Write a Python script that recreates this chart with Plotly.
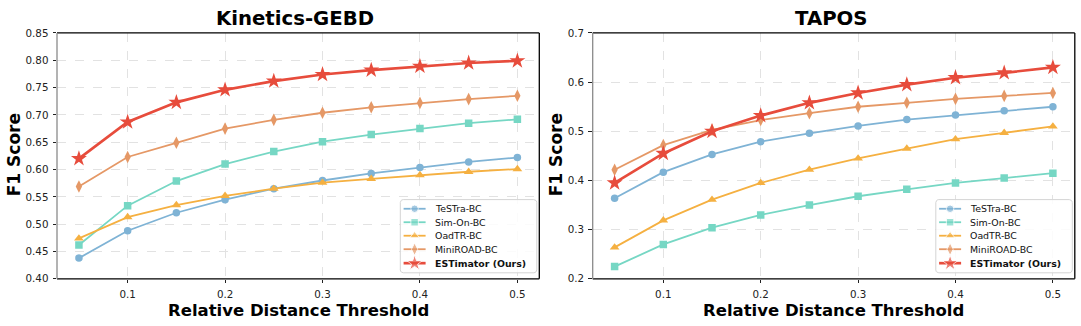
import math
import plotly.graph_objects as go

# Relative distance thresholds
thresholds = [0.05, 0.10, 0.15, 0.20, 0.25, 0.30, 0.35, 0.40, 0.45, 0.50]

methods = ["TeSTra-BC", "Sim-On-BC", "OadTR-BC", "MiniROAD-BC", "ESTimator (Ours)"]

# Kinetics-GEBD F1 scores
kin_testra = [0.438, 0.488, 0.521, 0.545, 0.565, 0.580, 0.593, 0.604, 0.614, 0.622]
kin_simon = [0.462, 0.534, 0.579, 0.610, 0.633, 0.651, 0.664, 0.675, 0.685, 0.692]
kin_oadtr = [0.474, 0.513, 0.535, 0.552, 0.565, 0.576, 0.583, 0.590, 0.596, 0.601]
kin_miniroad = [0.569, 0.623, 0.649, 0.675, 0.691, 0.704, 0.714, 0.722, 0.729, 0.735]
kin_estimator = [0.620, 0.687, 0.723, 0.746, 0.762, 0.774, 0.782, 0.789, 0.795, 0.799]

# TAPOS F1 scores
tap_testra = [0.364, 0.417, 0.453, 0.479, 0.496, 0.511, 0.524, 0.533, 0.542, 0.550]
tap_simon = [0.225, 0.270, 0.304, 0.330, 0.350, 0.368, 0.382, 0.395, 0.405, 0.415]
tap_oadtr = [0.264, 0.319, 0.361, 0.395, 0.422, 0.445, 0.465, 0.484, 0.497, 0.510]
tap_miniroad = [0.422, 0.472, 0.503, 0.523, 0.537, 0.550, 0.558, 0.566, 0.572, 0.578]
tap_estimator = [0.395, 0.455, 0.500, 0.532, 0.558, 0.578, 0.595, 0.609, 0.619, 0.630]

x_ticks = [0.1, 0.2, 0.3, 0.4, 0.5]
kin_y_ticks = [0.40, 0.45, 0.50, 0.55, 0.60, 0.65, 0.70, 0.75, 0.80, 0.85]
tap_y_ticks = [0.2, 0.3, 0.4, 0.5, 0.6, 0.7]

colors = ["#7FB3D5", "#76D7C4", "#F5B041", "#E59866", "#E74C3C"]
symbols = ["circle", "square", "triangle-up", "diamond-tall", "star"]
msizes = [7.5, 7.5, 8.5, 9, 12]
lwidths = [1.8, 1.8, 1.8, 1.8, 2.7]

FONT = "DejaVu Sans"
W, H = 1081, 326

# Plot-area placement (pixels)
left1, right1 = 57, 539.3
left2, right2 = 592.7, 1074.8
top, bottom = 28, 283.3
ydom = [(H - bottom) / H, (H - top) / H]

fig = go.Figure()

panels = [
    ("x", "y", [kin_testra, kin_simon, kin_oadtr, kin_miniroad, kin_estimator]),
    ("x2", "y2", [tap_testra, tap_simon, tap_oadtr, tap_miniroad, tap_estimator]),
]

for xa, ya, series in panels:
    for i, (name, vals) in enumerate(zip(methods, series)):
        fig.add_trace(go.Scatter(
            x=thresholds, y=vals, name=name, mode="lines+markers",
            xaxis=xa, yaxis=ya, showlegend=False,
            line=dict(color=colors[i], width=lwidths[i]),
            marker=dict(symbol=symbols[i], size=msizes[i], color=colors[i]),
        ))

axis_common = dict(
    showgrid=True, gridcolor="#e2e2e2", griddash="dash", gridwidth=0.8,
    ticks="outside", ticklen=3.5, tickwidth=1, tickcolor="#222",
    ticklabelstandoff=2,
    tickfont=dict(family=FONT, size=10.3, color="#222"),
    zeroline=False, showline=False,
)

fig.update_layout(
    width=W, height=H,
    margin=dict(l=0, r=0, t=0, b=0),
    paper_bgcolor="white", plot_bgcolor="rgba(0,0,0,0)",
    font=dict(family=FONT),
    showlegend=False,
    xaxis=dict(domain=[left1 / W, right1 / W], range=[0.0275, 0.5225],
               tickvals=x_ticks, ticktext=[f"{v:.1f}" for v in x_ticks], anchor="y",
               **axis_common),
    yaxis=dict(domain=ydom, range=[0.40, 0.85], tickvals=kin_y_ticks,
               ticktext=[f"{v:.2f}" for v in kin_y_ticks], anchor="x", **axis_common),
    xaxis2=dict(domain=[left2 / W, right2 / W], range=[0.0275, 0.5225],
                tickvals=x_ticks, ticktext=[f"{v:.1f}" for v in x_ticks], anchor="y2",
                **axis_common),
    yaxis2=dict(domain=ydom, range=[0.2, 0.7], tickvals=tap_y_ticks,
                ticktext=[f"{v:.1f}" for v in tap_y_ticks], anchor="x2", **axis_common),
    # pixel-space overlay used for the legend boxes
    xaxis3=dict(domain=[0, 1], range=[0, W], visible=False, fixedrange=True),
    yaxis3=dict(domain=[0, 1], range=[H, 0], visible=False, fixedrange=True),
)

# Frame around each plot area (left spine lighter, others black)
for xr, yr in [("x domain", "y domain"), ("x2 domain", "y2 domain")]:
    for (x0, x1, y0, y1, c) in [(0, 1, 0, 0, "black"), (0, 1, 1, 1, "black"),
                                (1, 1, 0, 1, "black"), (0, 0, 0, 1, "#8a8a8a")]:
        fig.add_shape(type="line", xref=xr, yref=yr, x0=x0, x1=x1, y0=y0, y1=y1,
                      line=dict(color=c, width=1.3))


def rounded_box(x0, y0, x1, y1, r=3, n=6):
    xs, ys = [], []
    corners = [(x1 - r, y0 + r, -90, 0), (x1 - r, y1 - r, 0, 90),
               (x0 + r, y1 - r, 90, 180), (x0 + r, y0 + r, 180, 270)]
    for cx, cy, a0, a1 in corners:
        for k in range(n + 1):
            a = math.radians(a0 + (a1 - a0) * k / n)
            xs.append(cx + r * math.cos(a))
            ys.append(cy + r * math.sin(a))
    xs.append(xs[0])
    ys.append(ys[0])
    return xs, ys


# Legend boxes drawn in pixel space
leg_w, leg_top, leg_bot = 136.5, 201, 277
row_y = [210.5, 224.5, 238.5, 252.5, 267]
for right in (right1, right2):
    bx1 = right - 2.5
    bx0 = bx1 - leg_w
    xs, ys = rounded_box(bx0, leg_top, bx1, leg_bot)
    fig.add_trace(go.Scatter(x=xs, y=ys, xaxis="x3", yaxis="y3", mode="lines",
                             fill="toself", fillcolor="rgba(255,255,255,0.85)",
                             line=dict(color="#d4d4d4", width=1), hoverinfo="skip",
                             showlegend=False))
    for i, name in enumerate(methods):
        yy = row_y[i]
        fig.add_trace(go.Scatter(
            x=[bx0 + 3.3, bx0 + 14.3, bx0 + 25.3], y=[yy, yy, yy],
            xaxis="x3", yaxis="y3", mode="lines+markers", hoverinfo="skip",
            showlegend=False,
            line=dict(color=colors[i], width=lwidths[i]),
            marker=dict(symbol=symbols[i], size=[0, msizes[i], 0], color=colors[i]),
        ))
        label = f"<b>{name}</b>" if i == 4 else name
        fig.add_annotation(text=label, x=(bx0 + 32.5) / W, y=1 - yy / H,
                           xref="paper", yref="paper", showarrow=False,
                           xanchor="left", yanchor="middle",
                           font=dict(family=FONT, size=9.4, color="#111"))

# Titles and axis labels
for left, right, title, ylab_x in [(left1, right1, "Kinetics-GEBD", 14),
                                   (left2, right2, "TAPOS", 556)]:
    cx = (left + right) / 2 / W
    fig.add_annotation(text=f"<b>{title}</b>", x=cx - 3 / W, y=1 - 12.5 / H,
                       xref="paper", yref="paper", showarrow=False,
                       xanchor="center", yanchor="middle",
                       font=dict(family=FONT, size=19.7, color="black"))
    fig.add_annotation(text="<b>Relative Distance Threshold</b>", x=cx, y=1 - 316 / H,
                       xref="paper", yref="paper", showarrow=False,
                       xanchor="center", yanchor="middle",
                       font=dict(family=FONT, size=16.5, color="black"))
    fig.add_annotation(text="<b>F1 Score</b>", x=ylab_x / W, y=1 - 155 / H,
                       xref="paper", yref="paper", showarrow=False, textangle=-90,
                       xanchor="center", yanchor="middle",
                       font=dict(family=FONT, size=17, color="black"))

fig.write_html("out.html")
